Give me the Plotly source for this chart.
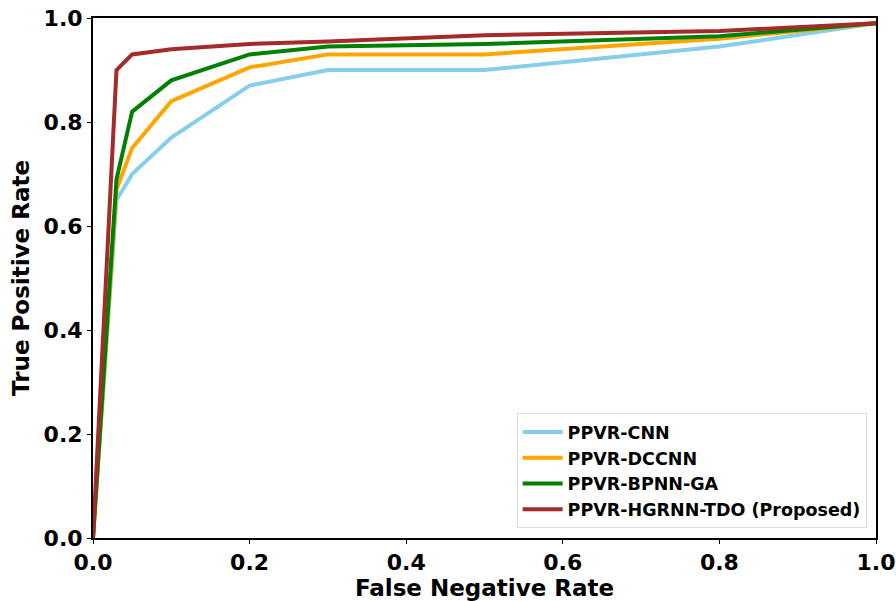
import plotly.graph_objects as go

fnr = [0, 0.03, 0.05, 0.1, 0.2, 0.3, 0.5, 0.8, 1.0]
tpr_cnn = [0, 0.65, 0.70, 0.77, 0.87, 0.90, 0.90, 0.945, 0.99]
tpr_dccnn = [0, 0.67, 0.75, 0.84, 0.905, 0.93, 0.93, 0.96, 0.99]
tpr_bpnn = [0, 0.69, 0.82, 0.88, 0.93, 0.945, 0.95, 0.965, 0.99]
tpr_hgrnn = [0, 0.90, 0.93, 0.94, 0.95, 0.955, 0.967, 0.975, 0.99]

names = ["PPVR-CNN", "PPVR-DCCNN", "PPVR-BPNN-GA", "PPVR-HGRNN-TDO (Proposed)"]
colors = ["#87CEEB", "#FFA500", "#008000", "#A52A2A"]
series = [tpr_cnn, tpr_dccnn, tpr_bpnn, tpr_hgrnn]

fig = go.Figure()
for n, c, s in zip(names, colors, series):
    fig.add_trace(go.Scatter(x=fnr, y=s, mode="lines", name=n,
                             line=dict(color=c, width=4)))

font = "DejaVu Sans"
fig.update_layout(
    width=896, height=601,
    margin=dict(l=93, r=20, t=18, b=63),
    plot_bgcolor="white", paper_bgcolor="white",
    font=dict(family=font, color="black"),
    legend=dict(x=0.988, y=0.019, xanchor="right", yanchor="bottom",
                bgcolor="white", bordercolor="#dddddd", borderwidth=1,
                font=dict(family=font, size=17.5, color="black", weight="bold"),
                tracegroupgap=0, itemwidth=40),
    showlegend=True,
)
axis_common = dict(showgrid=False, zeroline=False, showline=True, linecolor="black",
                   linewidth=2, mirror=True, ticks="outside", ticklen=4, tickwidth=1,
                   tickcolor="black", automargin=False, ticklabeloverflow="allow",
                   tickfont=dict(family=font, size=22, color="black", weight="bold"),
                   tickformat=".1f", dtick=0.2)
fig.update_xaxes(range=[0, 1], title=dict(text="False Negative Rate", standoff=5,
                 font=dict(family=font, size=23, color="black", weight="bold")), **axis_common)
fig.update_yaxes(range=[0, 1], title=dict(text="True Positive Rate", standoff=8,
                 font=dict(family=font, size=23, color="black", weight="bold")), **axis_common)

post = ("document.body.style.margin='0';document.body.style.overflow='hidden';"
        "document.querySelectorAll('svg.main-svg').forEach(function(s){s.style.overflow='visible';});")
fig.write_html("out.html", post_script=post, config={"displayModeBar": False})
